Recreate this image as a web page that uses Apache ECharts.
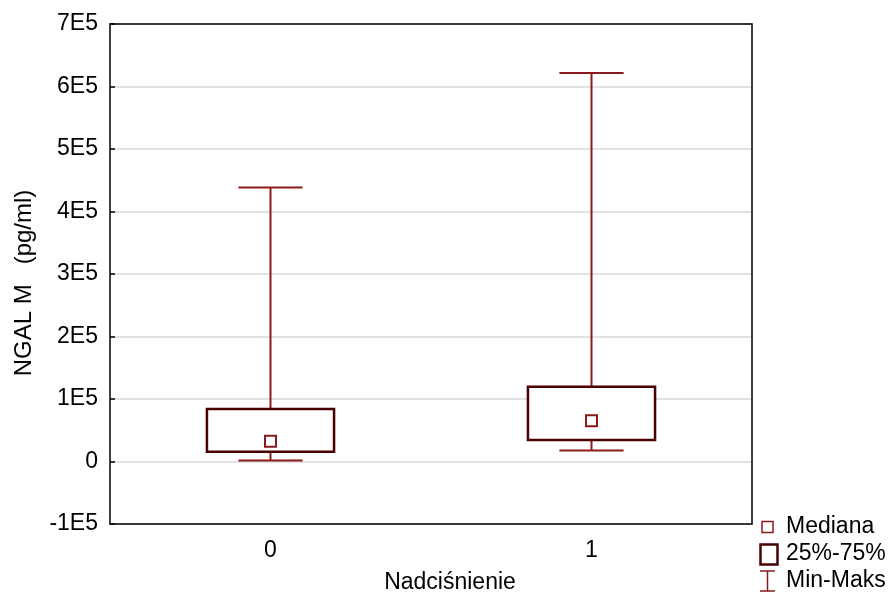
<!DOCTYPE html>
<html>
<head>
<meta charset="utf-8">
<script src="https://cdn.jsdelivr.net/npm/echarts@6/dist/echarts.min.js"></script>
<style>
html,body{margin:0;padding:0;background:#fff;}
#chart{width:890px;height:599px;}
</style>
</head>
<body>
<div id="chart"></div>
<script>
var categories = ['0', '1'];
var minVals = [1600, 17500];
var q1Vals = [15500, 34600];
var medianVals = [32500, 65400];
var q3Vals = [84000, 119600];
var maxVals = [438600, 621500];
var yTickLabels = ['-1E5', '0', '1E5', '2E5', '3E5', '4E5', '5E5', '6E5', '7E5'];
var yTickValues = [-100000, 0, 100000, 200000, 300000, 400000, 500000, 600000, 700000];

var FONT = 'Liberation Sans, Arial, sans-serif';
var FS = 23;
var WHISK = '#8b1a1a';
var BOXC = '#4a0000';

var data = categories.map(function (c, i) {
  return [i, minVals[i], q1Vals[i], medianVals[i], q3Vals[i], maxVals[i]];
});

function renderItem(params, api) {
  var idx = api.value(0);
  var band = api.size([1, 0])[0];
  var cx = api.coord([idx, 0])[0];
  var yMin = api.coord([idx, api.value(1)])[1];
  var yQ1 = api.coord([idx, api.value(2)])[1];
  var yMed = api.coord([idx, api.value(3)])[1];
  var yQ3 = api.coord([idx, api.value(4)])[1];
  var yMax = api.coord([idx, api.value(5)])[1];
  var hw = band * 0.198;
  var cw = band * 0.1;
  var ls = {stroke: WHISK, lineWidth: 2, fill: null};
  return {
    type: 'group',
    children: [
      {type: 'line', shape: {x1: cx, y1: yQ3, x2: cx, y2: yMax}, style: ls},
      {type: 'line', shape: {x1: cx - cw, y1: yMax, x2: cx + cw, y2: yMax}, style: ls},
      {type: 'line', shape: {x1: cx, y1: yQ1, x2: cx, y2: yMin}, style: ls},
      {type: 'line', shape: {x1: cx - cw, y1: yMin, x2: cx + cw, y2: yMin}, style: ls},
      {type: 'rect', shape: {x: cx - hw, y: yQ3, width: 2 * hw, height: yQ1 - yQ3},
        style: {stroke: BOXC, lineWidth: 2.5, fill: '#fff'}},
      {type: 'rect', shape: {x: cx - 5.5, y: yMed - 5.5, width: 11, height: 11},
        style: {stroke: WHISK, lineWidth: 2, fill: '#fff'}}
    ]
  };
}

var chart = echarts.init(document.getElementById('chart'));
chart.setOption({
  backgroundColor: '#fff',
  animation: false,
  grid: {left: 110, right: 138, top: 24, bottom: 75},
  xAxis: [{
    type: 'category', data: categories,
    name: 'Nadciśnienie', nameLocation: 'middle', nameGap: 47,
    nameTextStyle: {fontFamily: FONT, fontSize: FS, color: '#000', padding: [0, 0, 0, 38]},
    axisLine: {onZero: false, lineStyle: {color: '#000', width: 1.5}},
    axisTick: {inside: true, alignWithLabel: true, length: 5, lineStyle: {color: '#000', width: 1.5}},
    axisLabel: {fontFamily: FONT, fontSize: FS, color: '#000', margin: 15},
    splitLine: {show: false}
  }, {
    type: 'category', data: categories, position: 'top',
    axisLine: {onZero: false, lineStyle: {color: '#000', width: 1.5}},
    axisTick: {show: false}, axisLabel: {show: false}, splitLine: {show: false}
  }],
  yAxis: [{
    type: 'value', min: -100000, max: 700000, interval: 100000,
    name: 'NGAL M   (pg/ml)', nameLocation: 'middle', nameGap: 74, nameRotate: 90,
    nameTextStyle: {fontFamily: FONT, fontSize: 24, color: '#000', padding: [0, 18, 0, 0]},
    axisLine: {show: true, onZero: false, lineStyle: {color: '#000', width: 1.5}},
    axisTick: {show: true, inside: true, length: 5, lineStyle: {color: '#000', width: 1.5}},
    axisLabel: {fontFamily: FONT, fontSize: FS, color: '#000', margin: 12,
      formatter: function (v) {
        var k = yTickValues.indexOf(v);
        return k >= 0 ? yTickLabels[k] : '';
      }},
    splitLine: {show: true, lineStyle: {color: '#d9d9d9', width: 1.5}}
  }, {
    type: 'value', min: -100000, max: 700000, interval: 100000, position: 'right',
    axisLine: {show: true, onZero: false, lineStyle: {color: '#000', width: 1.5}},
    axisTick: {show: false}, axisLabel: {show: false}, splitLine: {show: false}
  }],
  series: [{
    type: 'custom', renderItem: renderItem, data: data,
    xAxisIndex: 0, yAxisIndex: 0,
    encode: {x: 0, y: [1, 2, 3, 4, 5]}, z: 5
  }],
  graphic: [
    {type: 'rect', shape: {x: 762, y: 521.5, width: 11, height: 11},
      style: {stroke: WHISK, lineWidth: 1.5, fill: '#fff'}},
    {type: 'text', x: 786, y: 527, style: {text: 'Mediana', fontFamily: FONT, fontSize: FS,
      fill: '#000', verticalAlign: 'middle'}},
    {type: 'rect', shape: {x: 760.5, y: 544.5, width: 17, height: 20},
      style: {stroke: BOXC, lineWidth: 2.5, fill: '#fff'}},
    {type: 'text', x: 786, y: 554, style: {text: '25%-75%', fontFamily: FONT, fontSize: FS,
      fill: '#000', verticalAlign: 'middle'}},
    {type: 'line', shape: {x1: 760, y1: 571, x2: 775, y2: 571}, style: {stroke: WHISK, lineWidth: 1.5}},
    {type: 'line', shape: {x1: 767.5, y1: 571, x2: 767.5, y2: 591}, style: {stroke: WHISK, lineWidth: 1.5}},
    {type: 'line', shape: {x1: 760, y1: 591, x2: 775, y2: 591}, style: {stroke: WHISK, lineWidth: 1.5}},
    {type: 'text', x: 786, y: 581, style: {text: 'Min-Maks', fontFamily: FONT, fontSize: FS,
      fill: '#000', verticalAlign: 'middle'}}
  ]
});
</script>
</body>
</html>
